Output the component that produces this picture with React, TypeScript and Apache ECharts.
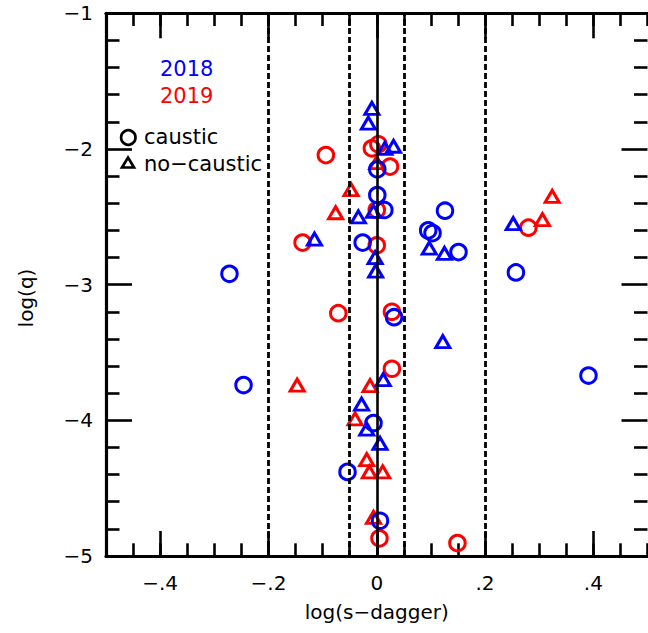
import React, { useEffect, useRef } from "react";
import * as echarts from "echarts";

// 2018 (blue) caustic events: [log(s-dagger), log(q)]
const blueCaustic: number[][] = [
  [0.001, -2.15], [0.001, -2.34], [0.014, -2.45], [-0.026, -2.69], [-0.272, -2.92],
  [0.032, -3.24], [-0.246, -3.74], [-0.006, -4.02], [-0.054, -4.38], [0.006, -4.74],
  [0.126, -2.455], [0.095, -2.6], [0.103, -2.62], [0.151, -2.76], [0.257, -2.91], [0.391, -3.67],
];
// 2018 (blue) no-caustic events
const blueNoCaustic: number[][] = [
  [-0.009, -1.7], [-0.0155, -1.81], [0.015, -1.995], [0.031, -1.98], [-0.006, -2.46],
  [-0.034, -2.5], [-0.003, -2.8], [-0.002, -2.9], [-0.115, -2.665], [0.097, -2.73],
  [0.125, -2.77], [0.252, -2.55], [0.122, -3.42], [0.012, -3.7], [-0.028, -3.88],
  [-0.0185, -4.065], [0.006, -4.17],
];
// 2019 (red) caustic events
const redCaustic: number[][] = [
  [-0.009, -1.995], [0.003, -1.965], [0.0245, -2.13], [-0.094, -2.045], [0.0, -2.45],
  [-0.137, -2.69], [0.0, -2.71], [-0.071, -3.21], [0.028, -3.2], [0.028, -3.62],
  [0.28, -2.58], [0.005, -4.87], [0.149, -4.905],
];
// 2019 (red) no-caustic events
const redNoCaustic: number[][] = [
  [-0.0475, -2.3], [-0.076, -2.47], [0.0, -2.1], [0.306, -2.52], [0.324, -2.35],
  [-0.147, -3.74], [-0.0124, -3.745], [-0.04, -3.99], [-0.0185, -4.29], [-0.0137, -4.38],
  [0.011, -4.38], [-0.006, -4.715],
];

const xTickValues = [-0.4, -0.2, 0, 0.2, 0.4];
const xTickLabels = ["\u2212.4", "\u2212.2", "0", ".2", ".4"];
const dashedLines = [-0.2, -0.05, 0.05, 0.2];
const solidLines = [0];

const FONT = "DejaVu Sans";
const BLUE = "#0000ff";
const RED = "#ff0000";

export default function App() {
  const ref = useRef<HTMLDivElement>(null);
  useEffect(() => {
    if (!ref.current) return;
    const chart = echarts.init(ref.current, null, { renderer: "svg" });
    const gridLeft = 106;
    const gridTop = 13.3;
    const gridW = 541.5;
    const gridH = 542.7;

    const majorTick = { show: true, inside: true, length: 25, lineStyle: { color: "#000", width: 2.6 } };
    const minorTickX = { show: true, inside: true, length: 12.7, lineStyle: { color: "#000", width: 2.6 } };

    const xBase = { type: "value", min: -0.5, max: 0.5, splitLine: { show: false } };

    const markStyle = (c: string) => ({ color: "rgba(0,0,0,0)", borderColor: c, borderWidth: 3, opacity: 1 });

    const option: any = {
      animation: false,
      grid: { left: gridLeft, top: gridTop, width: gridW, height: gridH },
      xAxis: [
        {
          ...xBase,
          position: "bottom",
          axisLine: { show: true, onZero: false, lineStyle: { color: "#000", width: 3.2 } },
          axisTick: { ...majorTick, customValues: xTickValues },
          axisLabel: {
            show: true,
            customValues: xTickValues,
            margin: 17,
            color: "#000",
            fontFamily: FONT,
            fontSize: 20,
            formatter: (v: number) => {
              const i = xTickValues.findIndex((t) => Math.abs(t - v) < 1e-6);
              return i >= 0 ? xTickLabels[i] : "";
            },
          },
        },
        {
          ...xBase,
          position: "bottom",
          interval: 0.05,
          axisLine: { show: false, onZero: false },
          axisTick: minorTickX,
          axisLabel: { show: false },
        },
        {
          ...xBase,
          position: "top",
          axisLine: { show: true, onZero: false, lineStyle: { color: "#000", width: 3.2 } },
          axisTick: { ...majorTick, customValues: xTickValues },
          axisLabel: { show: false },
        },
        {
          ...xBase,
          position: "top",
          interval: 0.05,
          axisLine: { show: false, onZero: false },
          axisTick: minorTickX,
          axisLabel: { show: false },
        },
      ],
      yAxis: [
        {
          type: "value",
          min: -5,
          max: -1,
          interval: 1,
          position: "left",
          splitLine: { show: false },
          axisLine: { show: true, onZero: false, lineStyle: { color: "#000", width: 3.2 } },
          axisTick: { ...majorTick, length: 26 },
          minorTick: { show: true, splitNumber: 5, length: 13.5, lineStyle: { color: "#000", width: 2.6 } },
          axisLabel: {
            show: true,
            margin: 13,
            color: "#000",
            fontFamily: FONT,
            fontSize: 20,
            formatter: (v: number) => (v < 0 ? "\u2212" + Math.abs(v) : String(v)),
          },
        },
        {
          type: "value",
          min: -5,
          max: -1,
          interval: 1,
          position: "right",
          splitLine: { show: false },
          axisLine: { show: false, onZero: false },
          axisTick: { ...majorTick, length: 26 },
          minorTick: { show: true, splitNumber: 5, length: 13.5, lineStyle: { color: "#000", width: 2.6 } },
          axisLabel: { show: false },
        },
      ],
      series: [
        {
          type: "line",
          data: [],
          z: 1,
          silent: true,
          markLine: {
            silent: true,
            symbol: "none",
            label: { show: false },
            animation: false,
            data: [
              ...dashedLines.map((x) => ({ xAxis: x, lineStyle: { color: "#000", width: 2.8, type: [6, 3], opacity: 1 } })),
              ...solidLines.map((x) => ({ xAxis: x, lineStyle: { color: "#000", width: 2.6, type: "solid", opacity: 1 } })),
            ],
          },
        },
        {
          type: "scatter",
          data: redCaustic,
          symbol: "circle",
          symbolSize: 15.5,
          itemStyle: markStyle(RED),
          z: 2,
        },
        {
          type: "scatter",
          data: redNoCaustic,
          symbol: "triangle",
          symbolSize: [14, 12],
          itemStyle: markStyle(RED),
          z: 2,
        },
        {
          type: "scatter",
          data: blueCaustic,
          symbol: "circle",
          symbolSize: 15.5,
          itemStyle: markStyle(BLUE),
          z: 3,
        },
        {
          type: "scatter",
          data: blueNoCaustic,
          symbol: "triangle",
          symbolSize: [14, 12],
          itemStyle: markStyle(BLUE),
          z: 3,
        },
      ],
      graphic: [
        {
          type: "text",
          style: {
            text: "log(s\u2212dagger)",
            x: gridLeft + gridW / 2,
            y: 612,
            align: "center",
            verticalAlign: "middle",
            fill: "#000",
            font: `20px "${FONT}"`,
          },
        },
        {
          type: "text",
          x: 26,
          y: 298,
          rotation: Math.PI / 2,
          style: {
            text: "log(q)",
            x: 0,
            y: 0,
            align: "center",
            verticalAlign: "middle",
            fill: "#000",
            font: `20px "${FONT}"`,
          },
        },
        {
          type: "text",
          style: { text: "2018", x: 160, y: 69, verticalAlign: "middle", fill: BLUE, font: `21px "${FONT}"` },
        },
        {
          type: "text",
          style: { text: "2019", x: 160, y: 96, verticalAlign: "middle", fill: RED, font: `21px "${FONT}"` },
        },
        {
          type: "circle",
          shape: { cx: 128.3, cy: 137.5, r: 7.2 },
          style: { fill: "none", stroke: "#000", lineWidth: 2.7 },
        },
        {
          type: "text",
          style: { text: "caustic", x: 144, y: 136.5, verticalAlign: "middle", fill: "#000", font: `21px "${FONT}"` },
        },
        {
          type: "polygon",
          shape: { points: [[128, 157.5], [134, 167.5], [122, 167.5]] },
          style: { fill: "none", stroke: "#000", lineWidth: 2.7 },
        },
        {
          type: "text",
          style: { text: "no\u2212caustic", x: 144, y: 163.5, verticalAlign: "middle", fill: "#000", font: `21px "${FONT}"` },
        },
      ],
    };
    chart.setOption(option);
    return () => chart.dispose();
  }, []);

  return (
    <div style={{ position: "fixed", left: 0, top: 0, width: 648, height: 633, overflow: "hidden", background: "#fff" }}>
      <div ref={ref} style={{ width: 660, height: 633 }} />
    </div>
  );
}
